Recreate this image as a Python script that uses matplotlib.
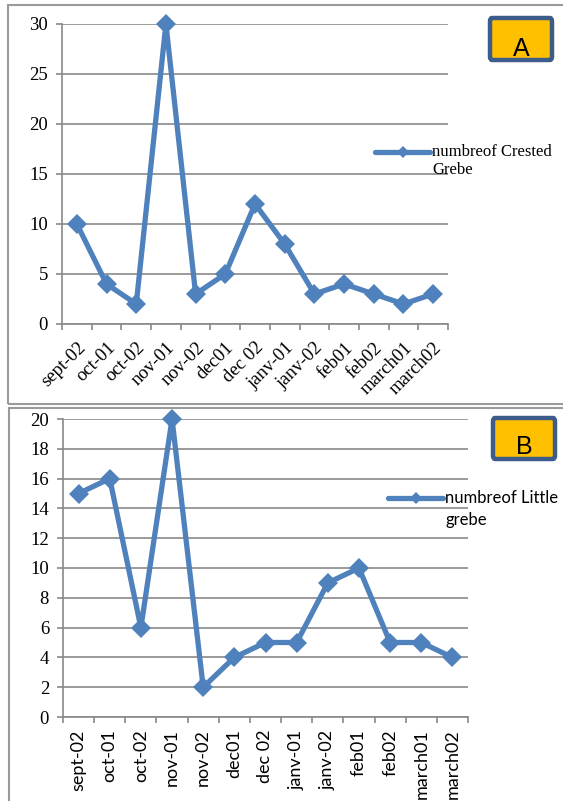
import matplotlib
matplotlib.use("Agg")
import matplotlib.pyplot as plt
from matplotlib.patches import Rectangle, FancyBboxPatch
from matplotlib.lines import Line2D

months = ["sept-02", "oct-01", "oct-02", "nov-01", "nov-02", "dec01", "dec 02",
          "janv-01", "janv-02", "feb01", "feb02", "march01", "march02"]
crested = [10, 4, 2, 30, 3, 5, 12, 8, 3, 4, 3, 2, 3]
little = [15, 16, 6, 20, 2, 4, 5, 5, 9, 10, 5, 5, 4]

W, H = 563, 801
BLUE = "#4F81BD"
GRID = "#898989"
SERIF = ["Liberation Serif", "DejaVu Serif"]
SANS = ["Lato", "DejaVu Sans"]


def fx(px):
    return px / W


def fy(py):
    return 1 - py / H


def make_axes(fig, left, right, top, bottom):
    return fig.add_axes([fx(left), fy(bottom), fx(right) - fx(left), fy(top) - fy(bottom)])


def style_axes(ax, values, ymax, ystep):
    x = list(range(len(values)))
    ax.plot(x, values, color=BLUE, lw=3.8, marker="D", ms=10.5, mew=0,
            clip_on=False, zorder=3)
    ax.set_xlim(-0.5, len(values) - 0.5)
    ax.set_ylim(0, ymax)
    ax.set_yticks(range(0, ymax + 1, ystep))
    ax.set_yticklabels([str(v) for v in range(0, ymax + 1, ystep)],
                       family=SERIF, fontsize=13.5)
    ax.set_xticks(x)
    ax.set_xticks([i - 0.5 for i in range(len(values) + 1)], minor=True)
    ax.yaxis.grid(True, color=GRID, lw=1.2)
    ax.set_axisbelow(True)
    for s in ["top", "right"]:
        ax.spines[s].set_visible(False)
    for s in ["left", "bottom"]:
        ax.spines[s].set_color(GRID)
        ax.spines[s].set_linewidth(1.2)
    ax.tick_params(axis="y", length=4, width=1.2, color=GRID, pad=6)
    ax.tick_params(axis="x", which="major", length=0)
    ax.tick_params(axis="x", which="minor", length=4, width=1.2, color=GRID)
    return ax


fig = plt.figure(figsize=(W / 100, H / 100), dpi=100)

# panel frames
fig.add_artist(Rectangle((fx(8), fy(404)), fx(600) - fx(8), fy(5) - fy(404),
                         transform=fig.transFigure, fill=False, ec="#9A9A9A", lw=1.5))
fig.add_artist(Rectangle((fx(9), fy(830)), fx(600) - fx(9), fy(408) - fy(830),
                         transform=fig.transFigure, fill=False, ec="#9A9A9A", lw=1.5))

# A: crested grebe
axA = make_axes(fig, 62, 448, 24, 324)
style_axes(axA, crested, 30, 5)
axA.set_xticklabels(months, rotation=45, ha="right", rotation_mode="anchor",
                    family=SERIF, fontsize=13.5)
axA.tick_params(axis="x", which="major", pad=11)

# B: little grebe
axB = make_axes(fig, 63, 468, 419, 717)
style_axes(axB, little, 20, 2)
axB.set_xticklabels(months, rotation=90, ha="center", va="top",
                    family=SANS, fontsize=13)
axB.tick_params(axis="x", which="major", pad=9)

# legends
for x0, x1, y, font, size, line1, line2, gap in [
        (375, 430, 152, SERIF, 12, "numbreof Crested", "Grebe", 18),
        (388, 443, 498, SANS, 12, "numbreof Little", "grebe", 22)]:
    fig.add_artist(Line2D([fx(x0), fx(x1)], [fy(y), fy(y)], transform=fig.transFigure,
                          color=BLUE, lw=3.8, solid_capstyle="round"))
    fig.add_artist(Line2D([fx((x0 + x1) / 2)], [fy(y)], transform=fig.transFigure,
                          color=BLUE, marker="D", ms=6, mew=0))
    fig.text(fx(x1 + 2), fy(y), line1, family=font, fontsize=size, va="center")
    fig.text(fx(x1 + 2), fy(y + gap), line2, family=font, fontsize=size, va="center")

# panel letters
for left, top, right, bottom, letter, base in [
        (490, 18, 552, 60, "A", 56), (493, 418, 555, 459, "B", 454)]:
    fig.add_artist(FancyBboxPatch((fx(left), fy(bottom)), fx(right) - fx(left),
                                  fy(top) - fy(bottom),
                                  boxstyle="round,pad=0,rounding_size=0.004",
                                  transform=fig.transFigure, fc="#FFC000",
                                  ec="#3E5C8A", lw=3.2))
    fig.text(fx((left + right) / 2), fy(base), letter, family="Liberation Sans",
             fontsize=18, ha="center", va="baseline")

fig.savefig("out.png", dpi=100)
